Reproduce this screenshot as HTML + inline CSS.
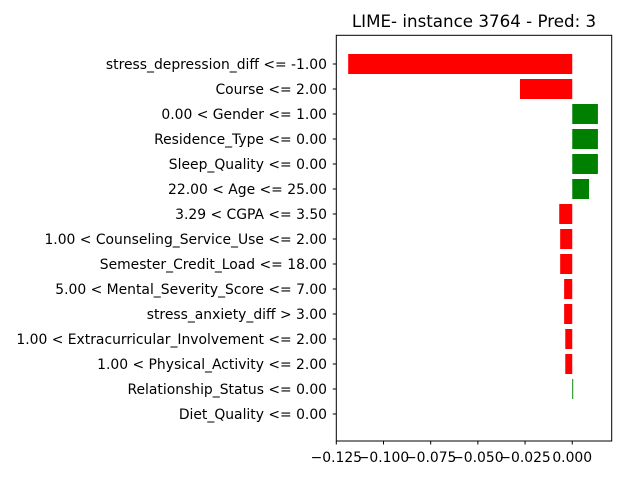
<!DOCTYPE html>
<html><head><meta charset="utf-8"><style>
body{margin:0;background:#fff;}
svg text{font-family:"DejaVu Sans","Liberation Sans",sans-serif;fill:#000;}
</style></head><body>
<svg id="chart" width="640" height="480">
<rect width="640" height="480" fill="#fff"/>
<text x="474" y="27" font-size="16.7" text-anchor="middle">LIME- instance 3764 - Pred: 3</text>
<g id="bars"></g><g id="yticks"></g><g id="xticks"></g>
<rect x="336.3" y="35.3" width="275.4" height="405.7" fill="none" stroke="#000" stroke-width="1"/>
</svg>
<script>
const features = ["stress_depression_diff <= -1.00","Course <= 2.00","0.00 < Gender <= 1.00","Residence_Type <= 0.00","Sleep_Quality <= 0.00","22.00 < Age <= 25.00","3.29 < CGPA <= 3.50","1.00 < Counseling_Service_Use <= 2.00","Semester_Credit_Load <= 18.00","5.00 < Mental_Severity_Score <= 7.00","stress_anxiety_diff > 3.00","1.00 < Extracurricular_Involvement <= 2.00","1.00 < Physical_Activity <= 2.00","Relationship_Status <= 0.00","Diet_Quality <= 0.00"];
const weights = [-0.1187,-0.0277,0.0136,0.0136,0.0136,0.0089,-0.0069,-0.0064,-0.0064,-0.0043,-0.0043,-0.0037,-0.0037,0.0005,0.0];
const xTicks = [-0.125,-0.100,-0.075,-0.050,-0.025,0.000];
const xTickLabels = ["\u22120.125","\u22120.100","\u22120.075","\u22120.050","\u22120.025","0.000"];
const NS="http://www.w3.org/2000/svg";
const xMin=-0.125,xMax=0.0209,L=336.3,R=611.7;
const x=v=>L+(v-xMin)/(xMax-xMin)*(R-L);
const y=i=>64+25*i;
const bars=document.getElementById('bars'),yt=document.getElementById('yticks'),xt=document.getElementById('xticks');
function mk(tag,attrs,parent){const e=document.createElementNS(NS,tag);for(const k in attrs)e.setAttribute(k,attrs[k]);parent.appendChild(e);return e;}
features.forEach((f,i)=>{
  const w=weights[i];
  const x0=Math.min(x(0),x(w)),x1=Math.max(x(0),x(w));
  const r=mk('rect',{x:x0,y:y(i)-10,width:Math.max(x1-x0,0),height:20,fill:w>0?'#008000':'#ff0000'},bars);
  
  
  mk('line',{x1:332.8,x2:336.3,y1:y(i),y2:y(i),stroke:'#000'},yt);
  const t=mk('text',{x:327,y:y(i)+5,'font-size':'13.9','text-anchor':'end'},yt);
  t.textContent=f;
  
  
});
xTicks.forEach((v,i)=>{
  mk('line',{x1:x(v),x2:x(v),y1:441,y2:444.5,stroke:'#000'},xt);
  const t=mk('text',{x:x(v),y:462,'font-size':'13.9','text-anchor':'middle'},xt);
  t.textContent=xTickLabels[i];
  
  
});
</script>
</body></html>
